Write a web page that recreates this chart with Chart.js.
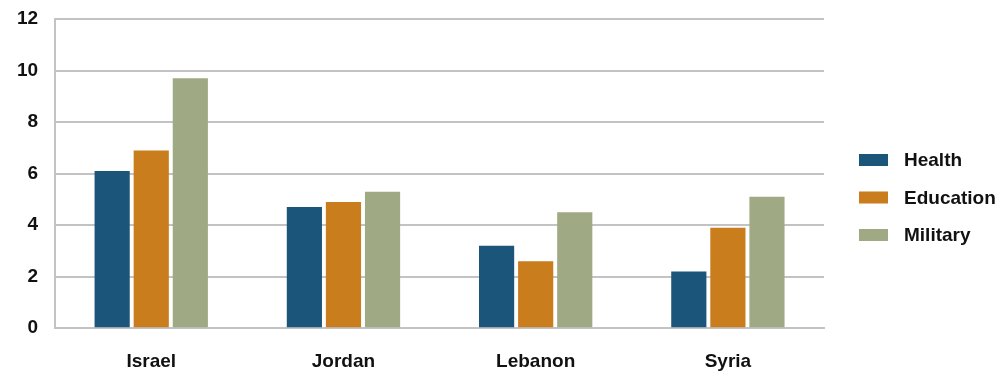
<!DOCTYPE html>
<html>
<head>
<meta charset="utf-8">
<script src="https://cdn.jsdelivr.net/npm/chart.js@4.4.0/dist/chart.umd.min.js"></script>
<style>
  html, body { margin: 0; padding: 0; background: #fff; }
  #wrap { width: 1003px; height: 374px; }
</style>
</head>
<body>
<div id="wrap"><canvas id="myChart" width="1003" height="374"></canvas></div>
<script>
const countries = ["Israel", "Jordan", "Lebanon", "Syria"];
const health = [6.1, 4.7, 3.2, 2.2];
const education = [6.9, 4.9, 2.6, 3.9];
const military = [9.7, 5.3, 4.5, 5.1];
const yTicks = [0, 2, 4, 6, 8, 10, 12];

const gridColor = "#c3c3c6";
const textColor = "#111";
const fontFamily = "'Liberation Sans', Arial, sans-serif";

// legend drawn by hand so the box/text spacing matches the original
const sideLegend = {
  id: "sideLegend",
  afterDraw: function (chart) {
    const c = chart.ctx;
    const area = chart.chartArea;
    const x = area.right + 35;
    let y = 160;
    c.save();
    c.font = "bold 19px " + fontFamily;
    c.textBaseline = "middle";
    c.fillStyle = textColor;
    for (let ds of chart.data.datasets) {
      c.fillStyle = ds.backgroundColor;
      c.fillRect(x, y - 6, 29, 12);
      c.fillStyle = textColor;
      c.fillText(ds.label, x + 45, y + 1);
      y += 37.5;
    }
    c.restore();
  }
};

const ctx = document.getElementById("myChart").getContext("2d");
const myChart = new Chart(ctx, {
  type: "bar",
  data: {
    labels: countries,
    datasets: [
      { label: "Health", data: health, backgroundColor: "#1b5579" },
      { label: "Education", data: education, backgroundColor: "#c97d1d" },
      { label: "Military", data: military, backgroundColor: "#9faa84" }
    ]
  },
  plugins: [sideLegend],
  options: {
    responsive: false,
    animation: false,
    layout: { autoPadding: false, padding: { top: 19, right: 179, left: 17, bottom: -21 } },
    datasets: { bar: { barPercentage: 0.9, categoryPercentage: 0.61 } },
    plugins: {
      tooltip: { enabled: false },
      legend: { display: false }
    },
    scales: {
      x: {
        grid: {
          color: function (c) { return (c.index === 0 || c.index === countries.length) ? gridColor : "rgba(0,0,0,0)"; },
          lineWidth: 2,
          drawTicks: false
        },
        border: { color: gridColor, width: 2 },
        ticks: {
          color: textColor,
          padding: 22,
          font: { family: fontFamily, size: 19, weight: "bold" }
        }
      },
      y: {
        min: 0,
        max: 12,
        afterBuildTicks: function (axis) { axis.ticks = yTicks.map(v => ({ value: v })); },
        // the gap left of the plot is an invisible tick mark, so it does not push the top down
        grid: { color: gridColor, lineWidth: 2, drawTicks: true, tickLength: 17, tickColor: "rgba(0,0,0,0)" },
        border: { color: gridColor, width: 2 },
        ticks: {
          color: textColor,
          padding: 0,
          font: { family: fontFamily, size: 19, weight: "bold" }
        }
      }
    }
  }
});
</script>
</body>
</html>
